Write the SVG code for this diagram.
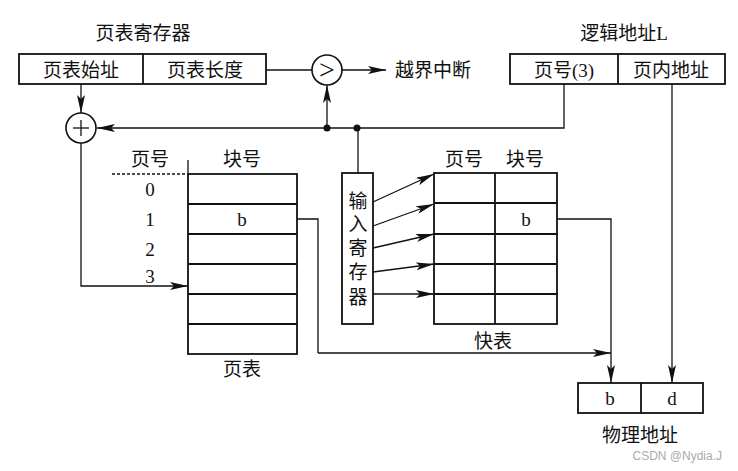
<svg xmlns="http://www.w3.org/2000/svg" width="738" height="471" viewBox="0 0 738 471">
<style>
.bx{fill:#fff;stroke:#111;stroke-width:1.8}
.ln{fill:none;stroke:#111;stroke-width:1.3}
.ar{fill:none;stroke:#111;stroke-width:1.3;marker-end:url(#ah)}
.t{font-family:"Liberation Serif","Noto Sans CJK SC",serif;font-size:19px;fill:#111;text-anchor:middle;dominant-baseline:central}
.n{font-family:"Liberation Serif",serif;font-size:19px;fill:#111;text-anchor:middle;dominant-baseline:central}
</style>
<defs>
<marker id="ah" viewBox="0 0 18 8" refX="18" refY="4" markerWidth="18" markerHeight="8" markerUnits="userSpaceOnUse" orient="auto">
<path d="M0,0 L18,4 L0,8 L4,4 Z" fill="#111"/>
</marker>
</defs>
<rect width="738" height="471" fill="#fff"/>

<g id="connectors">
<line class="ln" x1="266" y1="70" x2="312" y2="70"/>
<line class="ar" x1="342" y1="70" x2="386" y2="70"/>
<line class="ar" x1="81" y1="84" x2="81" y2="113"/>
<polyline class="ln" points="564,84 564,128 358,128"/>
<line class="ar" x1="358" y1="128" x2="97" y2="128"/>
<line class="ar" x1="327" y1="128" x2="327" y2="85"/>
<line class="ln" x1="358" y1="128" x2="358" y2="173"/>
<circle cx="327" cy="128" r="3.5" fill="#111"/>
<circle cx="357" cy="128" r="3.5" fill="#111"/>
<polyline class="ar" points="81,143 81,286 188,286"/>
<polyline class="ln" points="297,219 318,219 318,353"/>
<line class="ar" x1="318" y1="353" x2="611" y2="353"/>
<polyline class="ar" points="557,219 611,219 611,383"/>
<line class="ar" x1="672" y1="84" x2="672" y2="383"/>
<line class="ar" x1="373" y1="202" x2="434" y2="174"/>
<line class="ar" x1="373" y1="226" x2="434" y2="204"/>
<line class="ar" x1="373" y1="248" x2="434" y2="234"/>
<line class="ar" x1="373" y1="272" x2="434" y2="264"/>
<line class="ar" x1="373" y1="294" x2="434" y2="294"/>
</g>

<g id="page-table-register">
<text class="t" x="143" y="33">页表寄存器</text>
<rect class="bx" x="19" y="54" width="247" height="30"/>
<line class="ln" x1="143" y1="54" x2="143" y2="84" style="stroke-width:1.8"/>
<text class="t" x="81" y="70">页表始址</text>
<text class="t" x="205" y="70">页表长度</text>
</g>

<g id="comparator">
<circle cx="327" cy="70" r="15" fill="#fff" stroke="#111" stroke-width="1.6"/>
<text class="n" x="327" y="69" style="font-size:28px">&gt;</text>
</g>

<g id="overflow">
<text class="t" x="433" y="70">越界中断</text>
</g>

<g id="logical-address">
<text class="t" x="624" y="33">逻辑地址L</text>
<rect class="bx" x="510" y="54" width="215" height="30"/>
<line class="ln" x1="618" y1="54" x2="618" y2="84" style="stroke-width:1.8"/>
<text class="t" x="564" y="70">页号(3)</text>
<text class="t" x="671" y="70">页内地址</text>
</g>

<g id="adder">
<circle cx="81" cy="128" r="15" fill="#fff" stroke="#111" stroke-width="1.6"/>
<line class="ln" x1="73" y1="128" x2="89" y2="128"/>
<line class="ln" x1="81" y1="120" x2="81" y2="136"/>
</g>

<g id="page-table">
<text class="t" x="150" y="159">页号</text>
<text class="t" x="242" y="159">块号</text>
<line class="ln" x1="112" y1="174" x2="188" y2="174" stroke-dasharray="3,2"/>
<line class="ln" x1="188" y1="160" x2="188" y2="174"/>
<rect class="bx" x="188" y="174" width="109" height="180"/>
<line class="ln" x1="188" y1="204" x2="297" y2="204" style="stroke-width:1.8"/>
<line class="ln" x1="188" y1="234" x2="297" y2="234" style="stroke-width:1.8"/>
<line class="ln" x1="188" y1="264" x2="297" y2="264" style="stroke-width:1.8"/>
<line class="ln" x1="188" y1="294" x2="297" y2="294" style="stroke-width:1.8"/>
<line class="ln" x1="188" y1="324" x2="297" y2="324" style="stroke-width:1.8"/>
<text class="n" x="150" y="189">0</text>
<text class="n" x="150" y="219">1</text>
<text class="n" x="150" y="249">2</text>
<text class="n" x="150" y="276">3</text>
<text class="n" x="242" y="219">b</text>
<text class="t" x="242" y="369">页表</text>
</g>

<g id="input-register">
<rect class="bx" x="342" y="173" width="31" height="151"/>
<text class="t" x="358" y="201">输</text>
<text class="t" x="358" y="224">入</text>
<text class="t" x="358" y="248">寄</text>
<text class="t" x="358" y="272">存</text>
<text class="t" x="358" y="297">器</text>
</g>

<g id="fast-table">
<text class="t" x="464" y="159">页号</text>
<text class="t" x="525" y="159">块号</text>
<rect class="bx" x="434" y="173" width="123" height="151"/>
<line class="ln" x1="495" y1="173" x2="495" y2="324" style="stroke-width:1.8"/>
<line class="ln" x1="434" y1="203" x2="557" y2="203" style="stroke-width:1.8"/>
<line class="ln" x1="434" y1="234" x2="557" y2="234" style="stroke-width:1.8"/>
<line class="ln" x1="434" y1="264" x2="557" y2="264" style="stroke-width:1.8"/>
<line class="ln" x1="434" y1="294" x2="557" y2="294" style="stroke-width:1.8"/>
<text class="n" x="526" y="219">b</text>
<text class="t" x="493" y="341">快表</text>
</g>

<g id="physical-address">
<rect class="bx" x="578" y="383" width="125" height="30"/>
<line class="ln" x1="641" y1="383" x2="641" y2="413" style="stroke-width:1.8"/>
<text class="n" x="610" y="398">b</text>
<text class="n" x="672" y="398">d</text>
<text class="t" x="640" y="435">物理地址</text>
</g>

<text x="722" y="456" style="font-family:'Liberation Sans',sans-serif;font-size:12px;fill:#aaa;text-anchor:end;dominant-baseline:central">CSDN @Nydia.J</text>
</svg>
